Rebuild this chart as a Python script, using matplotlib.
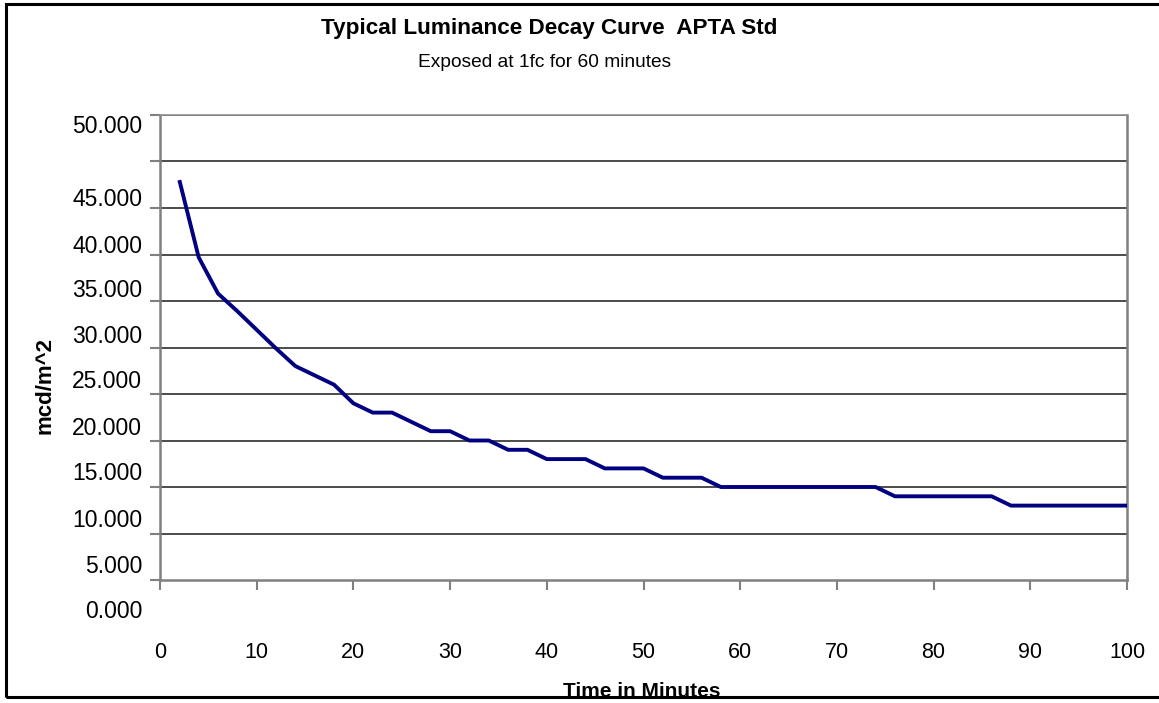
import matplotlib.pyplot as plt
from matplotlib.patches import Rectangle

# --- Data ---
minutes = list(range(2, 101, 2))
luminance = [48.0, 39.7, 35.8, 33.9, 31.9, 29.9, 28.0, 27.0, 26.0, 24.0,
             23, 23, 22, 21, 21, 20, 20, 19, 19, 18,
             18, 18, 17, 17, 17, 16, 16, 16, 15, 15,
             15, 15, 15, 15, 15, 15, 15, 14, 14, 14,
             14, 14, 14, 13, 13, 13, 13, 13, 13, 13]

x_ticks = list(range(0, 101, 10))
y_tick_labels = ["0.000", "5.000", "10.000", "15.000", "20.000", "25.000",
                 "30.000", "35.000", "40.000", "45.000", "50.000"]
# where the y labels sit in the source picture (they are not on the gridlines)
Y_LABEL_POS = [1.56, 6.5, 11.45, 16.4, 21.3, 26.3, 31.2, 36.1, 40.9, 45.9, 53.8]

TITLE = "Typical Luminance Decay Curve  APTA Std"
SUBTITLE = "Exposed at 1fc for 60 minutes"
XLABEL = "Time in Minutes"
YLABEL = "mcd/m^2"

plt.rcParams['font.family'] = ['Liberation Sans', 'DejaVu Sans']

W, H = 1159, 703
fig = plt.figure(figsize=(W / 100, H / 100), dpi=100)
ax = fig.add_axes([160 / W, 1 - 580 / H, 967 / W, 465 / H])

ax.plot(minutes, luminance, color='#000080', lw=2.8, solid_joinstyle='round',
        solid_capstyle='butt', zorder=3)

ax.set_xlim(0, 100)
ax.set_ylim(5, 55)

# gridlines every 5 units
for g in range(10, 56, 5):
    ax.axhline(g, color='#1a1a1a', lw=1.1, zorder=1)

ax.set_xticks(x_ticks)
ax.set_xticklabels([str(t) for t in x_ticks], fontsize=15.5)
ax.tick_params(axis='x', direction='out', length=7, width=1.5, color='#808080',
               pad=38)
ax.set_yticks(list(range(5, 56, 5)))
ax.set_yticklabels([])
ax.tick_params(axis='y', direction='out', length=7, width=1.5, color='#808080')

for lbl, pos in zip(y_tick_labels, Y_LABEL_POS):
    ax.text(-0.0186, pos, lbl, transform=ax.get_yaxis_transform(),
            ha='right', va='center', fontsize=16.5, clip_on=False)

for side in ['left', 'right', 'bottom']:
    ax.spines[side].set_color('#808080')
    ax.spines[side].set_linewidth(1.8)
ax.spines['top'].set_color('#909090')
ax.spines['top'].set_linewidth(1.2)

fig.text(549 / W, 1 - 34 / H, TITLE, ha='center', va='baseline',
         fontsize=16.2, fontweight='bold')
fig.text(545 / W, 1 - 67 / H, SUBTITLE, ha='center', va='baseline',
         fontsize=13.8)
fig.text(45 / W, 1 - 385 / H, YLABEL, ha='center', va='center',
         rotation=90, fontsize=16, fontweight='bold')
fig.text(642 / W, 1 - 697 / H, XLABEL, ha='center', va='baseline',
         fontsize=15, fontweight='bold')

# outer frame (right edge falls outside the picture)
fig.patches.append(Rectangle((5.5 / W, 1 - 697 / H), 1.05, (697 - 4) / H,
                             transform=fig.transFigure, fill=False,
                             edgecolor='black', lw=2.2, zorder=10))

fig.savefig("out.png", dpi=100)
